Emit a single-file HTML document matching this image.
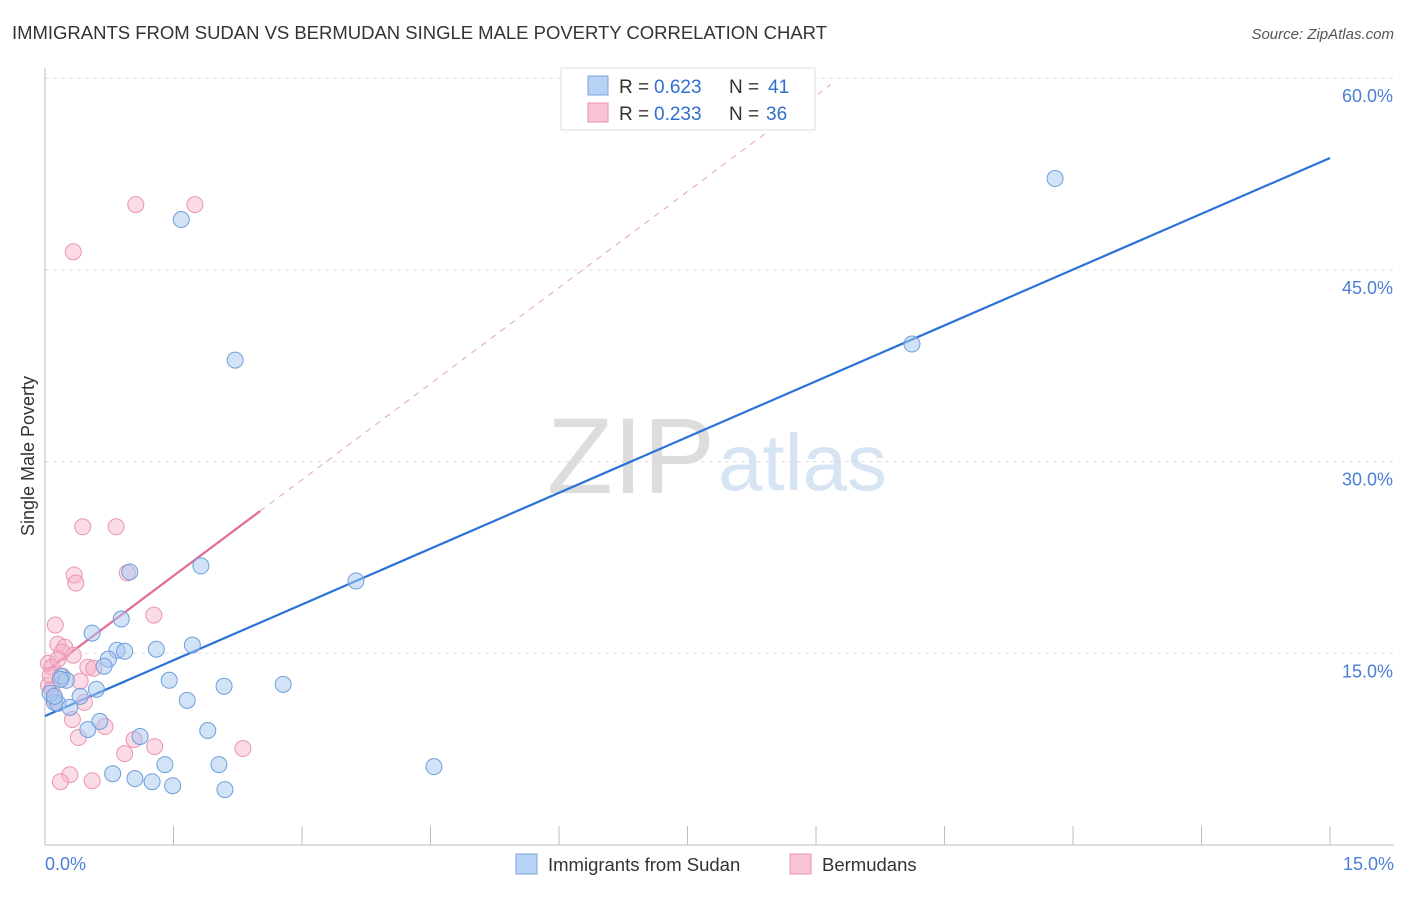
<!DOCTYPE html>
<html><head><meta charset="utf-8">
<style>
body{margin:0;background:#fff;font-family:"Liberation Sans",sans-serif;}
svg text{font-family:"Liberation Sans",sans-serif;}
</style></head>
<body>
<svg id="chart" width="1406" height="892">
<text x="12" y="39" font-size="18.5" fill="#333" textLength="815" lengthAdjust="spacing">IMMIGRANTS FROM SUDAN VS BERMUDAN SINGLE MALE POVERTY CORRELATION CHART</text>
<text x="1394" y="39" font-size="15" fill="#555" font-style="italic" text-anchor="end">Source: ZipAtlas.com</text>
<text x="0" y="0" transform="translate(34,456) rotate(-90)" font-size="18" fill="#333" text-anchor="middle">Single Male Poverty</text>
<text x="715" y="493" font-size="108" fill="#ddd" text-anchor="end" font-family="Liberation Serif">ZIP</text>
<text x="718" y="490" font-size="80" fill="#d6e4f4">atlas</text>
<g id="grid"></g>
<g id="axes"></g>
<g id="lines"></g>
<g id="points"></g>
<g>
<rect x="561" y="68" width="254" height="62" fill="#fff" stroke="#ddd"/>
<rect x="588" y="76" width="20" height="19" fill="#b7d2f4" stroke="#7aa6e0"/>
<text x="619" y="93" font-size="19" fill="#333">R =</text>
<text x="654" y="93" font-size="19" fill="#2f6fd0">0.623</text>
<text x="729" y="93" font-size="19" fill="#333">N =</text>
<text x="768" y="93" font-size="19" fill="#2f6fd0">41</text>
<rect x="588" y="103" width="20" height="19" fill="#f9c4d5" stroke="#e890ad"/>
<text x="619" y="120" font-size="19" fill="#333">R =</text>
<text x="654" y="120" font-size="19" fill="#2f6fd0">0.233</text>
<text x="729" y="120" font-size="19" fill="#333">N =</text>
<text x="766" y="120" font-size="19" fill="#2f6fd0">36</text>
</g>
<g>
<rect x="516" y="854" width="21" height="20" fill="#b7d2f4" stroke="#7aa6e0"/>
<text x="548" y="871" font-size="18.5" fill="#333">Immigrants from Sudan</text>
<rect x="790" y="854" width="21" height="20" fill="#f9c4d5" stroke="#e890ad"/>
<text x="822" y="871" font-size="18.5" fill="#333">Bermudans</text>
</g>
</svg>
<script>
const yTicks=[15,30,45,60];
const yTickLabels=["15.0%","30.0%","45.0%","60.0%"];
const xTickLabels=["0.0%","15.0%"];
const sudanX=[11.79,10.12,1.59,2.22,3.63,1.82,0.99,0.89,0.55,1.72,1.30,0.84,0.93,0.74,0.69,0.20,0.25,1.45,2.09,2.78,0.60,0.41,1.66,0.11,0.15,0.29,0.64,0.50,1.90,1.11,0.79,1.05,1.25,1.49,2.03,1.40,2.10,4.54,0.06,0.11,0.18];
const sudanY=[52.15,39.2,48.94,37.94,20.66,21.84,21.37,17.68,16.58,15.64,15.32,15.24,15.16,14.54,13.99,13.2,12.89,12.89,12.42,12.57,12.18,11.63,11.32,11.16,11.08,10.77,9.67,9.04,8.96,8.49,5.58,5.19,4.95,4.64,6.29,6.29,4.33,6.13,11.87,11.63,12.96];
const bermX=[1.06,1.75,0.33,0.44,0.83,0.34,0.36,0.96,1.27,0.12,0.15,0.23,0.20,0.33,0.04,0.08,0.50,0.57,0.18,0.41,0.04,0.08,0.46,0.32,0.70,0.39,1.04,1.28,0.93,2.31,0.29,0.18,0.55,0.06,0.15,0.11];
const bermY=[50.11,50.11,46.42,24.9,24.9,21.13,20.5,21.29,17.99,17.21,15.71,15.48,15.09,14.85,14.22,13.91,13.91,13.83,13.2,12.81,12.49,12.18,11.16,9.82,9.27,8.41,8.25,7.7,7.15,7.55,5.5,4.95,5.03,13.28,14.54,11.39];
const sudanLine=[[0,10.09],[15,53.76]];
const bermLine=[[0,13.54],[2.51,26.13]];
const bermExt=[[2.51,26.13],[9.17,59.5]];

const NS="http://www.w3.org/2000/svg";
const X=v=>45+v*85.67, Y=v=>845-v*12.78;
function mk(parent,tag,attrs){const e=document.createElementNS(NS,tag);for(const k in attrs)e.setAttribute(k,attrs[k]);document.getElementById(parent).appendChild(e);return e;}
yTicks.forEach((t,i)=>{
  const g=mk('grid','line',{x1:45,x2:1394,y1:Y(t),y2:Y(t),stroke:'#ddd','stroke-dasharray':'4,4'});
  
  
  const l=mk('axes','text',{x:1393,y:Y(t)+24,'font-size':18,fill:'#4a7fd6','text-anchor':'end'});
  l.textContent=yTickLabels[i];
  
  
});
const ax=mk('axes','line',{x1:45,x2:1394,y1:845,y2:845,stroke:'#bbb'});


const ay=mk('axes','line',{x1:45,x2:45,y1:68,y2:845,stroke:'#bbb'});


for(let i=0;i<=10;i++){
  const t=mk('axes','line',{x1:X(i*1.5),x2:X(i*1.5),y1:826,y2:845,stroke:'#bbb'});
  
  
}
[[0,'start',45],[15,'end',1394]].forEach((d,i)=>{
  const t=mk('axes','text',{x:d[2],y:870,'font-size':18,fill:'#4a7fd6','text-anchor':d[1]});
  t.textContent=xTickLabels[i];
  
  
});
const ext=mk('lines','line',{x1:X(bermExt[0][0]),y1:Y(bermExt[0][1]),x2:X(bermExt[1][0]),y2:Y(bermExt[1][1]),stroke:'#e8a0b8','stroke-dasharray':'6,6','stroke-width':1});


const bl=mk('lines','line',{x1:X(sudanLine[0][0]),y1:Y(sudanLine[0][1]),x2:X(sudanLine[1][0]),y2:Y(sudanLine[1][1]),stroke:'#2a72d8','stroke-width':2.2});


const pl=mk('lines','line',{x1:X(bermLine[0][0]),y1:Y(bermLine[0][1]),x2:X(bermLine[1][0]),y2:Y(bermLine[1][1]),stroke:'#e26a96','stroke-width':2.2});


bermX.forEach((v,i)=>{
  const c=mk('points','circle',{cx:X(v),cy:Y(bermY[i]),r:8,fill:'rgba(246,176,200,0.45)',stroke:'#e996b3','stroke-width':1});
  
  
});
sudanX.forEach((v,i)=>{
  const c=mk('points','circle',{cx:X(v),cy:Y(sudanY[i]),r:8,fill:'rgba(166,199,242,0.5)',stroke:'#6f9edb','stroke-width':1});
  
  
});
</script>
</body></html>
